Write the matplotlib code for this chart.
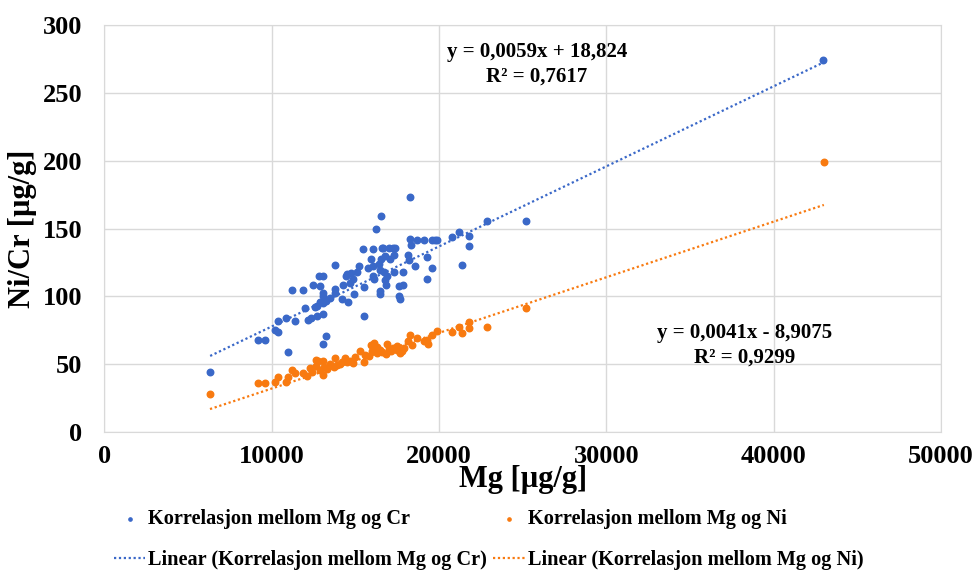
import numpy as np
import matplotlib.pyplot as plt

# Mg vs Cr (blue)
mg_cr = [6320, 18270, 16530, 16230, 25180, 22890, 21180, 21770, 20760, 21790,
         21370, 18270, 18330, 18700, 19120, 19560, 19740, 19900, 19280, 19580,
         19280, 18560, 18150, 18210, 17830, 17330, 17870, 17610, 17610, 17670,
         17230, 17370, 16990, 16570, 16670, 16040, 15440, 17330, 17070, 16770,
         16530, 15920, 16410, 16040, 15740, 15240, 16470, 16710, 16870, 16750,
         16830, 16130, 16040, 16470, 16470, 15520, 14880, 14720, 14480, 14420,
         13780, 12840, 13080, 12450, 12890, 11210, 11850, 13800, 13780, 14280,
         14180, 14580, 14940, 13080, 13050, 13230, 13050, 12730, 12590, 12010,
         11410, 12170, 12350, 12690, 13080, 10400, 10850, 10180, 10400, 9200,
         9620, 10960, 13230, 13080, 15520, 42950, 14700, 15100, 13500, 12900]
cr = [44.1, 173.4, 159.1, 149.3, 155.7, 155.4, 147.8, 144.8, 143.9, 136.9,
      123.4, 142.4, 137.7, 141.4, 141.4, 141.4, 141.4, 141.4, 128.8, 120.7,
      112.8, 122.7, 130.6, 126.6, 118.2, 118.2, 108.4, 107.4, 100.0, 98.3,
      135.7, 135.7, 135.7, 135.7, 135.7, 135.0, 135.0, 130.3, 127.8, 129.5,
      127.6, 127.6, 124.2, 122.7, 121.2, 122.7, 119.7, 117.7, 114.8, 112.3,
      108.4, 113.1, 115.3, 103.7, 102.0, 107.2, 112.9, 117.3, 116.5, 115.3,
      123.4, 114.8, 115.3, 108.1, 107.4, 104.7, 104.7, 105.7, 102.5, 108.1,
      98.3, 95.9, 102.0, 102.5, 100.5, 96.3, 95.1, 92.6, 91.9, 91.4,
      81.5, 82.8, 84.0, 85.2, 87.0, 81.5, 84.0, 75.4, 73.4, 68.0,
      68.0, 58.7, 71.0, 64.8, 85.2, 274.0, 110.0, 118.0, 99.0, 96.0]

# Mg vs Ni (orange)
mg_ni = [6310, 9200, 9620, 10180, 10400, 10860, 11000, 11210, 11410, 11890,
         12130, 12290, 12650, 12750, 13050, 12890, 13080, 13290, 13130, 13780,
         13740, 14080, 14380, 14680, 14880, 15280, 15520, 15920, 16130, 16270,
         16470, 16870, 17270, 17670, 17470, 17770, 18270, 18160, 18670, 19260,
         19360, 19600, 19860, 20760, 21180, 21370, 21770, 21790, 22890, 25180,
         43000, 12650, 13500, 14200, 15000, 15600, 16000, 16600, 17000, 17900,
         14500, 15800, 16300, 17100, 18400, 19100, 12400, 13900, 16800, 17500]
ni = [28.1, 36.0, 36.0, 37.2, 40.5, 37.2, 40.5, 45.9, 43.9, 43.4,
      41.4, 47.3, 48.8, 52.7, 52.7, 45.9, 42.2, 46.8, 48.3, 54.5,
      48.3, 50.3, 54.5, 52.7, 50.8, 60.1, 52.0, 64.3, 66.0, 58.2,
      60.6, 65.1, 61.9, 58.2, 63.1, 59.4, 71.7, 66.8, 69.0, 68.0,
      65.1, 71.7, 74.2, 73.4, 77.8, 73.0, 80.8, 76.7, 77.8, 91.4,
      198.7, 53.2, 50.0, 52.0, 55.5, 57.0, 60.0, 59.0, 61.0, 62.0,
      51.5, 56.0, 62.5, 59.5, 64.0, 67.0, 44.5, 49.5, 57.5, 60.5]

cr_slope, cr_icpt = 0.0059, 18.824
ni_slope, ni_icpt = 0.0041, -8.9075

blue = "#3a68c8"
orange = "#f87a10"
font = "Liberation Serif"

fig = plt.figure(figsize=(9.75, 5.81), dpi=100)
ax = fig.add_axes([0.1071, 0.2563, 0.858, 0.7007])

ax.scatter(mg_cr, cr, s=22, color=blue, zorder=3,
           label="Korrelasjon mellom Mg og Cr")
ax.scatter(mg_ni, ni, s=22, color=orange, zorder=3,
           label="Korrelasjon mellom Mg og Ni")

xs = np.array([min(mg_cr), max(mg_cr)])
ax.plot(xs, cr_slope * xs + cr_icpt, color=blue, lw=1.6, ls=(0, (1, 1.2)),
        zorder=2, label="Linear (Korrelasjon mellom Mg og Cr)")
xs2 = np.array([min(mg_ni), max(mg_ni)])
ax.plot(xs2, ni_slope * xs2 + ni_icpt, color=orange, lw=1.6, ls=(0, (1, 1.2)),
        zorder=2, label="Linear (Korrelasjon mellom Mg og Ni)")

ax.set_xlim(0, 50000)
ax.set_ylim(0, 300)
ax.set_xticks(range(0, 50001, 10000))
ax.set_yticks(range(0, 301, 50))
ax.grid(True, color="#d9d9d9", lw=1)
ax.set_axisbelow(True)
for sp in ax.spines.values():
    sp.set_color("#d9d9d9")
ax.tick_params(axis="y", length=0, pad=16)
ax.tick_params(axis="x", length=0, pad=9)
for lab in ax.get_xticklabels() + ax.get_yticklabels():
    lab.set_fontfamily(font)
    lab.set_fontweight("bold")
    lab.set_fontsize(19)

ax.set_xlabel("Mg [µg/g]", fontfamily=font, fontweight="bold", fontsize=22, labelpad=-2)
ax.set_ylabel("Ni/Cr [µg/g]", fontfamily=font, fontweight="bold", fontsize=22, labelpad=4)

ax.text(25860, 271, "y = 0,0059x + 18,824\nR² = 0,7617", ha="center", va="center",
        multialignment="center", fontfamily=font, fontweight="bold", fontsize=15,
        linespacing=1.25)
ax.text(38290, 64, "y = 0,0041x - 8,9075\nR² = 0,9299", ha="center", va="center",
        multialignment="center", fontfamily=font, fontweight="bold", fontsize=15,
        linespacing=1.25)

h, l = ax.get_legend_handles_labels()
order = [0, 2, 1, 3]
fig.legend([h[i] for i in order], [l[i] for i in order], ncol=2,
           loc="lower left", bbox_to_anchor=(0.098, -0.013), frameon=False,
           prop={"family": font, "weight": "bold", "size": 14.6},
           columnspacing=0.3, handlelength=1.55, handletextpad=0.15,
           labelspacing=1.05, markerscale=0.5)

fig.savefig("out.png", dpi=100)
